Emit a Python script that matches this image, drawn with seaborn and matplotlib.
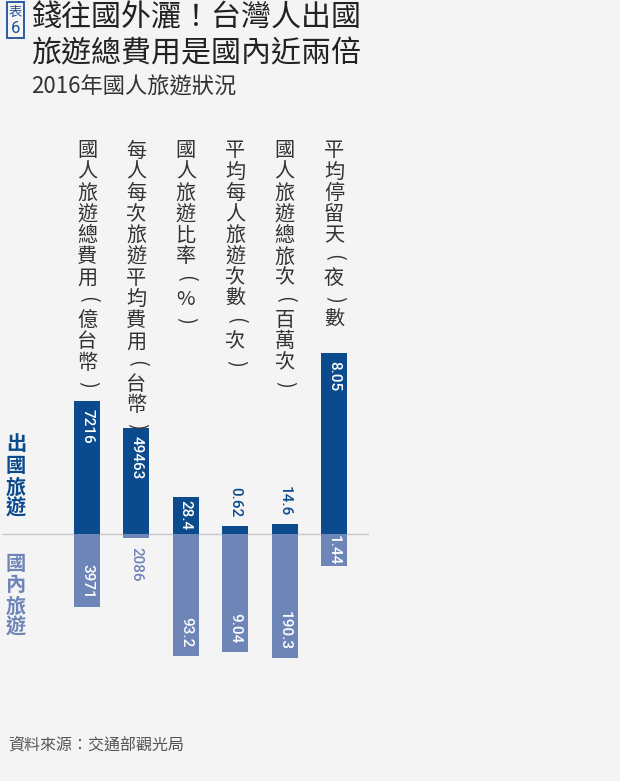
import matplotlib
matplotlib.use('Agg')
import matplotlib.pyplot as plt
import seaborn as sns
from matplotlib.patches import Rectangle
from matplotlib.lines import Line2D

# 2016年國人旅遊狀況 (資料來源：交通部觀光局)
metrics = ['國人旅遊總費用(億台幣)', '每人每次旅遊平均費用(台幣)', '國人旅遊比率(%)',
           '平均每人旅遊次數(次)', '國人旅遊總旅次(百萬次)', '平均停留天(夜)數']
outbound = [7216, 49463, 28.4, 0.62, 14.6, 8.05]
domestic = [3971, 2086, 93.2, 9.04, 190.3, 1.44]

# where each value label goes: 'top' inside the bar end, 'mid' centred, 'out' past the end
out_pos = ['top', 'top', 'mid', 'out', 'out', 'top']
dom_pos = ['top', 'out', 'top', 'top', 'top', 'mid']
# pixel height of the longest bar in each column (every column has its own scale)
span_px = [133, 106, 122, 118, 124, 181]

W, H = 620, 781
DARK = '#0b4b8d'
LIGHT = '#6d85b7'
BG = '#f4f4f4'
CJK = ['Noto Sans CJK TC', 'DejaVu Sans']

sns.set_theme(style='white')
plt.rcParams['font.family'] = CJK

fig = plt.figure(figsize=(W / 100, H / 100), dpi=100, facecolor=BG)


def fx(x):
    return x / W


def fy(y):
    return 1 - y / H


def vtext(x, y0, s, step, **kw):
    # stacked upright characters; brackets are turned to lie across the column
    for i, ch in enumerate(s):
        rot = -90 if ch in '()' else 0
        fig.text(fx(x), fy(y0 + i * step), ch, ha='center', va='center',
                 rotation=rot, **kw)


# title block
fig.add_artist(Rectangle((fx(7), fy(38)), fx(17), 36 / H, transform=fig.transFigure,
                         fill=False, edgecolor='#1d5096', lw=1.3))
fig.text(fx(15.5), fy(12), '表', color='#1d5096', fontsize=9.5, ha='center', va='center')
fig.text(fx(15.5), fy(28.5), '6', color='#1d5096', fontsize=12, ha='center', va='center',
         family=['Roboto'])
fig.text(fx(31), fy(18), '錢往國外灑！台灣人出國', fontsize=21.6, color='#222222',
         ha='left', va='center', weight='medium')
fig.text(fx(31), fy(54), '旅遊總費用是國內近兩倍', fontsize=21.6, color='#222222',
         ha='left', va='center', weight='medium')
fig.text(fx(31), fy(87), '2016年國人旅遊狀況', fontsize=16, color='#333333',
         ha='left', va='center')
fig.text(fx(8), fy(745), '資料來源：交通部觀光局', fontsize=11.5, color='#555555',
         ha='left', va='center')

# series labels on the left
vtext(16, 444, '出國旅遊', 21.5, fontsize=14.5, color=DARK, weight='bold')
vtext(16, 563, '國內旅遊', 21.5, fontsize=14.5, color=LIGHT, weight='bold')

# zero line
fig.add_artist(Line2D([fx(2), fx(368)], [fy(534), fy(534)], transform=fig.transFigure,
                      color='#c9c9c9', lw=1, zorder=0))

base_y, top_y, bot_y = 534, 340, 670
x0, dx, bw = 87, 49.4, 26
gap = 6  # points between bar end and its label

for i, name in enumerate(metrics):
    cx = x0 + i * dx
    vtext(cx, 151, name, 21.2, fontsize=14.5, color='#333333')

    ax = fig.add_axes([fx(cx - bw / 2), fy(bot_y), bw / W, (bot_y - top_y) / H])
    unit = max(outbound[i], domestic[i]) / span_px[i]
    sns.barplot(x=[name], y=[outbound[i]], color=DARK, width=1, errorbar=None,
                linewidth=0, saturation=1, ax=ax)
    sns.barplot(x=[name], y=[-domestic[i]], color=LIGHT, width=1, errorbar=None,
                linewidth=0, saturation=1, ax=ax)
    ax.set_ylim(-(bot_y - base_y) * unit, (base_y - top_y) * unit)
    ax.set_xlim(-0.5, 0.5)
    ax.axis('off')

    for val, pos, sign, col in [(outbound[i], out_pos[i], 1, DARK),
                                (domestic[i], dom_pos[i], -1, LIGHT)]:
        txt = f'{val:g}'
        kw = dict(rotation=-90, ha='center', fontsize=11, family=['Roboto'],
                  weight='medium', textcoords='offset points', annotation_clip=False)
        if pos == 'top':
            ax.annotate(txt, (0, sign * val), xytext=(0, -sign * gap),
                        va='top' if sign > 0 else 'bottom', color='white', **kw)
        elif pos == 'mid':
            ax.annotate(txt, (0, sign * val / 2), xytext=(0, 0), va='center',
                        color='white', **kw)
        else:
            ax.annotate(txt, (0, sign * val), xytext=(0, sign * gap),
                        va='bottom' if sign > 0 else 'top', color=col, **kw)

fig.savefig('out.png', dpi=100, facecolor=BG)
